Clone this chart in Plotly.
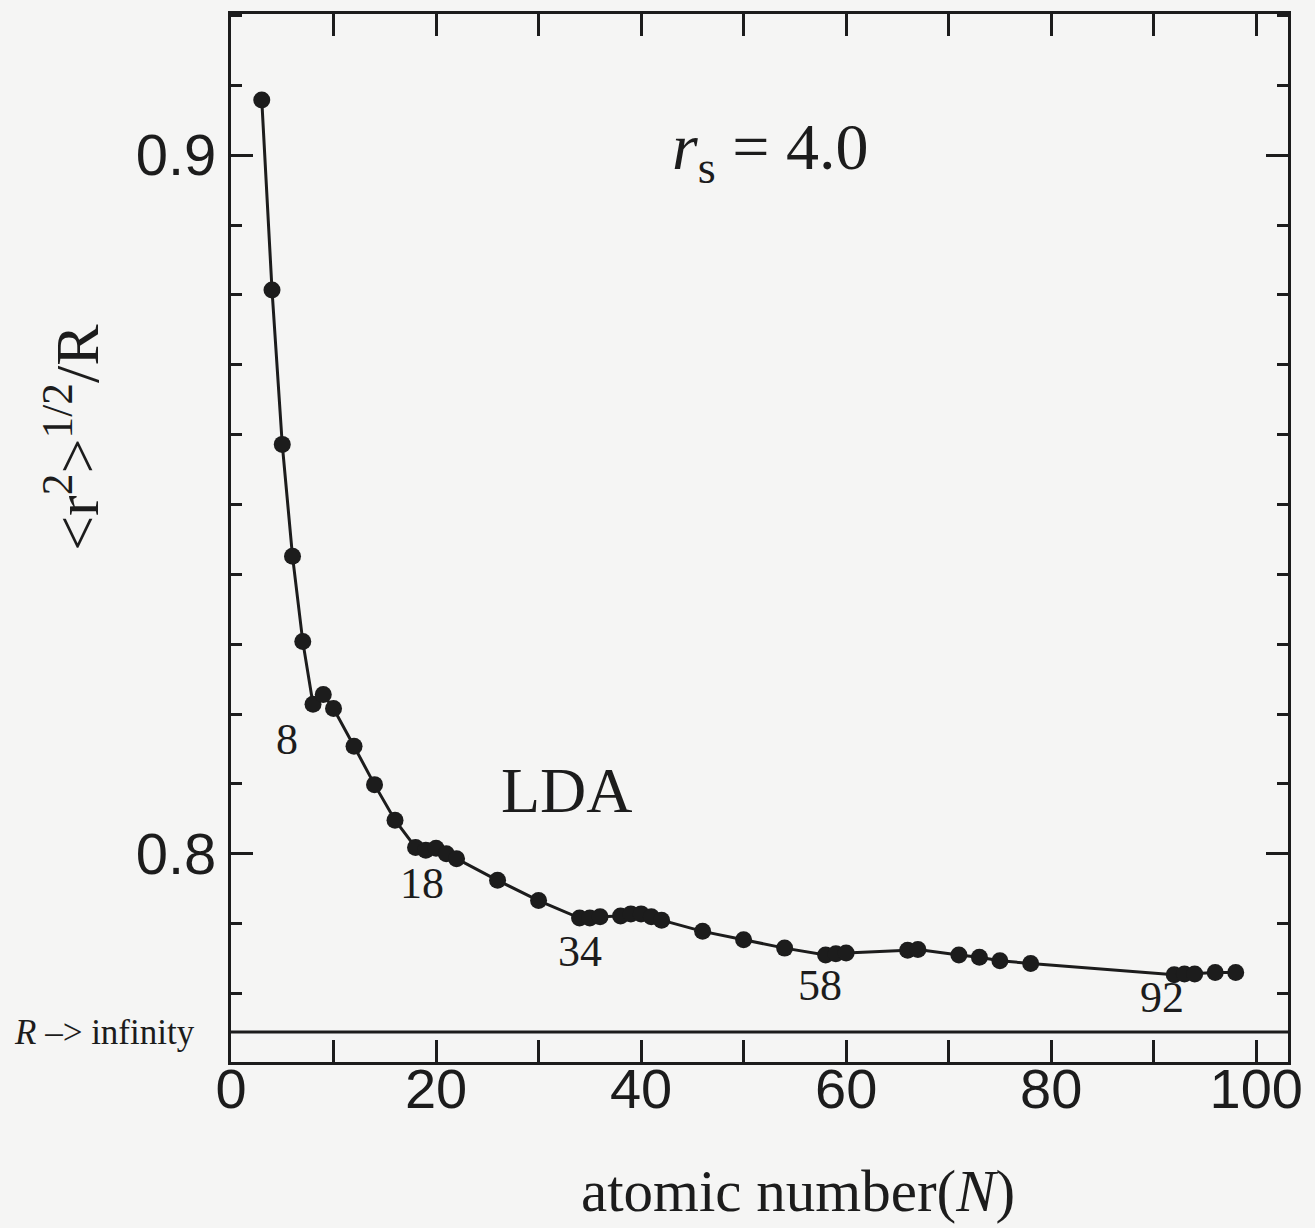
import plotly.graph_objects as go

# atomic number N and <r^2>^{1/2}/R values (r_s = 4.0, LDA)
atomic_number = [3, 4, 5, 6, 7, 8, 9, 10, 12, 14, 16, 18, 19, 20, 21, 22, 26, 30,
                 34, 35, 36, 38, 39, 40, 41, 42, 46, 50, 54, 58, 59, 60, 66, 67,
                 71, 73, 75, 78, 92, 93, 94, 96, 98]
rms_ratio = [0.9079, 0.8807, 0.8586, 0.8426, 0.8304, 0.8214, 0.8228, 0.8208, 0.8154,
             0.8099, 0.8048, 0.8009, 0.8005, 0.8008, 0.8000, 0.7993, 0.7962, 0.7933,
             0.7908, 0.7908, 0.7910, 0.7911, 0.7914, 0.7914, 0.7910, 0.7905, 0.7889,
             0.7877, 0.7865, 0.7855, 0.7857, 0.7858, 0.7862, 0.7863, 0.7855, 0.7852,
             0.7847, 0.7843, 0.7827, 0.7828, 0.7828, 0.7830, 0.7830]

magic_labels = ["8", "18", "34", "58", "92"]
magic_label_x = [5.46, 18.63, 34.04, 57.45, 90.8]
magic_label_y = [0.8163, 0.7958, 0.7860, 0.7812, 0.7794]

x_ticks = [0, 20, 40, 60, 80, 100]
y_ticks = [0.8, 0.9]

INK = "#1c1c1c"
BG = "#f5f5f4"
SERIF = "Liberation Serif, Times New Roman, serif"
SANS = "Liberation Sans, Arial, sans-serif"

fig = go.Figure()
fig.add_trace(go.Scatter(
    x=atomic_number, y=rms_ratio, mode="lines+markers",
    line=dict(color=INK, width=3),
    marker=dict(color=INK, size=17),
    showlegend=False, hoverinfo="x+y",
))

annotations = []
for t, xx, yy in zip(magic_labels, magic_label_x, magic_label_y):
    annotations.append(dict(x=xx, y=yy, xref="x", yref="y", text=t, showarrow=False,
                            font=dict(family=SERIF, size=44, color=INK)))
annotations += [
    dict(x=32.8, y=0.8091, xref="x", yref="y", text="LDA", showarrow=False,
         font=dict(family=SERIF, size=64, color=INK)),
    dict(x=52.6, y=0.9005, xref="x", yref="y", text="<i>r</i><sub>s</sub> = 4.0",
         showarrow=False, font=dict(family=SERIF, size=66, color=INK)),
    dict(x=-0.120, y=0.0286, xref="paper", yref="paper", text="<i>R</i> –> infinity",
         showarrow=False, xanchor="center", yanchor="middle",
         font=dict(family=SERIF, size=35, color=INK)),
    dict(x=-0.150, y=0.596, xref="paper", yref="paper",
         text="&lt;r<sup>2</sup>&gt;<sup>1/2</sup>/R", textangle=-90,
         showarrow=False, xanchor="center", yanchor="middle",
         font=dict(family=SERIF, size=62, color=INK)),
    dict(x=0.536, y=-0.123, xref="paper", yref="paper", text="atomic number(<i>N</i>)",
         showarrow=False, xanchor="center", yanchor="middle",
         font=dict(family=SERIF, size=59, color=INK)),
]

fig.update_layout(
    width=1315, height=1228,
    margin=dict(l=231, r=27, t=14, b=166),
    paper_bgcolor=BG, plot_bgcolor=BG,
    annotations=annotations,
    shapes=[dict(type="line", xref="x domain", yref="y domain", x0=0, x1=1,
                 y0=30 / 1048, y1=30 / 1048, line=dict(color=INK, width=3))],
)
fig.update_xaxes(
    range=[0, 103.1], showgrid=False, zeroline=False,
    showline=True, linecolor=INK, linewidth=3, mirror="ticks",
    ticks="inside", ticklen=22, tickwidth=3, tickcolor=INK,
    tickvals=x_ticks, ticktext=[str(v) for v in x_ticks],
    tickfont=dict(family=SANS, size=56, color=INK),
    ticklabelstandoff=-24,
    minor=dict(dtick=10, tick0=0, ticks="inside", ticklen=22, tickwidth=3, tickcolor=INK,
               showgrid=False),
)
fig.update_yaxes(
    range=[0.7702, 0.9202], showgrid=False, zeroline=False,
    showline=True, linecolor=INK, linewidth=3, mirror="ticks",
    ticks="inside", ticklen=22, tickwidth=3, tickcolor=INK,
    tickvals=y_ticks, ticktext=[f"{v:.1f}" for v in y_ticks],
    tickfont=dict(family=SANS, size=58, color=INK),
    minor=dict(dtick=0.01, tick0=0.8, ticks="inside", ticklen=11, tickwidth=3, tickcolor=INK,
               showgrid=False),
)

fig.write_html("out.html")
